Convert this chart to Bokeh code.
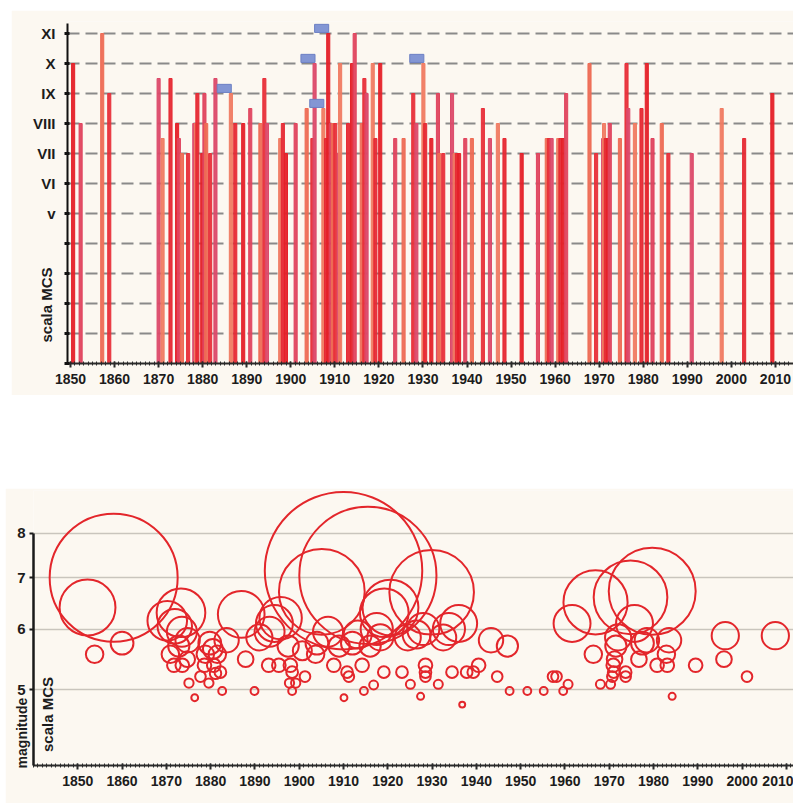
import math
from bokeh.plotting import figure
from bokeh.layouts import column, row
from bokeh.models import (FixedTicker, Label, Spacer, BasicTickFormatter)
from bokeh.embed import file_html
from bokeh.resources import INLINE

# ---------------- data: top panel (MCS intensity per event) ----------------
mcs_years = [1850.6, 1852.3, 1857.2, 1858.8, 1870.0, 1870.9, 1872.7, 1874.2, 1874.6,
             1875.3, 1876.7, 1878.1, 1878.5, 1878.8, 1879.9, 1880.4, 1880.8, 1881.7,
             1882.9, 1886.4, 1887.4, 1889.2, 1890.8, 1893.1, 1894.0, 1894.6, 1897.6,
             1898.2, 1898.9, 1901.1, 1903.6, 1904.9, 1905.4, 1907.4, 1908.0, 1908.5,
             1909.1, 1909.6, 1910.1, 1910.9, 1911.2, 1913.0, 1913.9, 1914.5, 1916.1,
             1916.7, 1917.2, 1918.6, 1919.2, 1920.3, 1923.7, 1925.6, 1927.8, 1928.5,
             1930.1, 1930.5, 1931.9, 1933.4, 1933.7, 1934.6, 1936.6, 1937.2, 1937.7,
             1938.2, 1939.6, 1941.1, 1943.6, 1945.2, 1947.0, 1948.5, 1952.4, 1956.1,
             1958.1, 1958.6, 1959.2, 1960.7, 1961.2, 1961.8, 1962.5, 1967.8, 1969.3,
             1970.9, 1971.1, 1971.5, 1972.0, 1972.4, 1974.7, 1976.2, 1976.6, 1978.1,
             1979.6, 1980.8, 1982.1, 1984.2, 1985.7, 1991.0, 1997.8, 2002.9, 2009.3]
mcs_levels = [10, 8, 11, 9, 9.5, 7.5, 9.5, 8, 7.5,
              7, 7, 8, 8, 9, 7, 9, 8, 7,
              9.5, 9, 8, 8, 8.5, 8, 9.5, 8, 7.5,
              8, 7, 8, 8.5, 7.5, 10, 8.5, 7.5, 11,
              8, 8, 8, 7, 10, 8, 10, 11, 8,
              9.5, 9, 10, 7.5, 10, 7.5, 7.5, 9, 8,
              10, 8, 7.5, 9, 7, 7, 9, 7, 7,
              7, 7.5, 7.5, 8.5, 7.5, 8, 7.5, 7, 7,
              7.5, 7.5, 7.5, 7.5, 7.5, 7.5, 9, 10, 7,
              7.5, 8, 7.5, 7.5, 8, 7.5, 10, 8.5, 8,
              8.5, 10, 7.5, 8, 7, 7, 8.5, 7.5, 9]
# events flagged with a blue marker
flag_years = [1886.4, 1905.4, 1907.4, 1908.5, 1930.1]
flag_levels = [9, 10, 8.5, 11, 10]

mcs_ticks = list(range(0, 12))
mcs_labels = ["", "", "", "", "", "v", "VI", "VII", "VIII", "IX", "X", "XI"]

# ---------------- data: bottom panel (magnitude per event) ----------------
eq_years = [1858.1, 1852.2, 1853.8, 1860.0,
            1870.2, 1873.3, 1871.9, 1873.5, 1874.8, 1870.9, 1871.7, 1873.6, 1874.7,
            1875.1, 1876.4, 1872.8,
            1877.7, 1878.6, 1878.8, 1879.6, 1880.7, 1881.1, 1881.5, 1882.2, 1882.6,
            1879.8, 1883.6, 1880.5,
            1886.9, 1887.9, 1889.9,
            1891.0, 1893.3, 1894.4, 1895.8, 1893.1, 1895.4, 1898.0, 1898.4, 1897.8,
            1899.2, 1898.4, 1897.5,
            1901.3, 1900.7, 1903.7, 1905.1, 1910.0, 1915.5, 1906.5, 1904.0, 1907.8,
            1909.0, 1910.8, 1911.2, 1910.1, 1912.0, 1913.2, 1914.2, 1914.6, 1916.8,
            1919.1, 1920.6, 1919.2, 1917.5, 1918.3, 1916.0,
            1923.2, 1925.1, 1927.4, 1928.5, 1928.5, 1928.5, 1931.4, 1924.5, 1926.5,
            1929.9, 1928.0,
            1934.5, 1936.8, 1937.8, 1939.3, 1940.5, 1936.0, 1933.8, 1932.5, 1943.3,
            1947.0,
            1944.7, 1947.5, 1951.5, 1955.2, 1957.3, 1958.1, 1959.6, 1960.7,
            1961.6, 1966.9, 1966.4, 1968.0, 1970.3, 1970.7, 1971.0, 1970.9, 1971.2,
            1973.7, 1973.7, 1974.8, 1975.7, 1979.7, 1976.7, 1980.8, 1983.1, 1982.9,
            1984.2, 1977.5, 1978.5, 1983.5, 1971.5, 1972.0,
            1989.5, 1995.9, 1996.2, 2001.1, 2007.5]
eq_mags = [7.0, 6.4, 5.56, 5.75,
           6.15, 6.3, 6.05, 5.95, 5.8, 5.56, 5.38, 5.38, 5.48,
           5.1, 4.88, 5.7,
           5.2, 5.38, 5.56, 5.1, 5.38, 5.25, 5.56, 5.27, 4.98,
           5.75, 5.8, 5.65,
           6.27, 5.48, 4.98,
           5.85, 5.95, 6.1, 6.2, 5.38, 5.38, 5.38, 5.27, 5.1,
           5.1, 4.98, 5.7,
           5.2, 5.62, 5.56, 6.71, 7.15, 7.05, 5.95, 5.75, 5.38,
           5.7, 5.27, 5.2, 4.88, 5.75, 5.9, 5.38, 4.98, 5.07,
           5.27, 6.4, 6.3, 6.0, 5.85, 5.7,
           5.27, 5.08, 4.9, 5.38, 5.27, 5.2, 5.08, 5.85, 5.9,
           6.7, 6.0,
           5.27, 4.78, 5.27, 5.27, 5.38, 6.1, 6.0, 5.85, 5.8,
           5.7,
           5.2, 4.98, 4.98, 4.98, 5.2, 5.2, 4.98, 5.08,
           6.1, 6.5, 5.56, 5.08, 5.08, 5.2, 5.27, 5.38, 5.48,
           5.27, 5.2, 6.6, 6.1, 6.72, 5.48, 5.38, 5.38, 5.56,
           4.9, 5.75, 5.8, 5.8, 5.7, 5.85,
           5.38, 5.48, 5.88, 5.2, 5.88]
mag_ticks = [5, 6, 7, 8]

decade_ticks = list(range(1850, 2011, 10))
year_ticks = list(range(1840, 2015))

# ---------------- styling ----------------
BG = "#fcf8f1"
FONT = "Liberation Sans"
TXT = "#1c1c1c"
BAR_COLORS = ["#e52129", "#e0445e", "#ee6c55", "#e8303a", "#dc4a6a", "#f07b62", "#e62a34"]
NB = "\u00a0"


def style_x_axis(p):
    ax = p.xaxis
    ax.ticker = FixedTicker(ticks=decade_ticks, minor_ticks=year_ticks)
    ax.axis_line_color = "#2a2a2a"
    ax.axis_line_width = 2
    ax.major_tick_line_color = "#2a2a2a"
    ax.major_tick_line_width = 2
    ax.major_tick_in = 2
    ax.major_tick_out = 4
    ax.minor_tick_line_color = "#2a2a2a"
    ax.minor_tick_line_width = 1
    ax.minor_tick_in = 2
    ax.minor_tick_out = 2
    ax.major_label_text_font = FONT
    ax.major_label_text_font_style = "bold"
    ax.major_label_text_font_size = "14px"
    ax.major_label_text_color = TXT
    ax.major_label_standoff = 6


# ---------------- top panel ----------------
p1 = figure(width=782, height=385, x_range=(1849.32, 2014.1), y_range=(0, 11.4),
            output_backend="svg", toolbar_location=None,
            min_border_left=56, min_border_right=0, min_border_top=11, min_border_bottom=32)
p1.background_fill_color = BG
p1.border_fill_color = BG
p1.outline_line_color = None
p1.xgrid.visible = False
p1.ygrid.ticker = FixedTicker(ticks=mcs_ticks[1:])
p1.ygrid.grid_line_color = "#8a8a8a"
p1.ygrid.grid_line_width = 2
p1.ygrid.grid_line_dash = "12 6"

bar_cols = [BAR_COLORS[i % len(BAR_COLORS)] for i in range(len(mcs_years))]
p1.vbar(x=mcs_years, top=mcs_levels, bottom=0, width=0.7,
        fill_color=bar_cols, line_color=bar_cols, line_width=1, fill_alpha=0.95)

p1.rect(x=[y - 1.5 for y in flag_years], y=[l + 0.17 for l in flag_levels],
        width=3.2, height=0.27, fill_color="#8396d4", line_color="#6d80c4", line_width=1)

style_x_axis(p1)
ya = p1.yaxis
ya.ticker = FixedTicker(ticks=mcs_ticks)
ya.major_label_overrides = {t: lab for t, lab in zip(mcs_ticks, mcs_labels)}
ya.bounds = (0, 11.35)
ya.axis_line_color = "#111111"
ya.axis_line_width = 2
ya.major_tick_line_color = "#111111"
ya.major_tick_line_width = 3
ya.major_tick_in = 2
ya.major_tick_out = 3
ya.minor_tick_line_color = None
ya.major_label_text_font = FONT
ya.major_label_text_font_style = "bold"
ya.major_label_text_font_size = "15px"
ya.major_label_text_color = TXT
ya.major_label_standoff = 9
ya.axis_label = "scala MCS" + NB * 54
ya.axis_label_text_font = FONT
ya.axis_label_text_font_style = "bold"
ya.axis_label_text_font_size = "15px"
ya.axis_label_text_color = TXT
ya.axis_label_standoff = -25

# ---------------- bottom panel ----------------
p2 = figure(width=788, height=315, x_range=(1840.0, 2011.6), y_range=(3.98, 9.1),
            y_axis_type="log", output_backend="svg", toolbar_location=None,
            min_border_left=28, min_border_right=0, min_border_top=2, min_border_bottom=38)
p2.background_fill_color = BG
p2.border_fill_color = BG
p2.outline_line_color = None
p2.xgrid.visible = False
p2.ygrid.ticker = FixedTicker(ticks=mag_ticks)
p2.ygrid.grid_line_color = "#c9c5bd"
p2.ygrid.grid_line_width = 1.5

sizes = [2 * 64 * 10 ** (0.6 * (m - 7)) for m in eq_mags]
p2.scatter(x=eq_years, y=eq_mags, size=sizes, marker="circle", fill_color=None,
           line_color="#e3262b", line_width=2)

style_x_axis(p2)
yb = p2.yaxis
yb.ticker = FixedTicker(ticks=mag_ticks)
yb.formatter = BasicTickFormatter()
yb.bounds = (3.98, 8)
yb.axis_line_color = "#1a1a1a"
yb.axis_line_width = 2.5
yb.major_tick_line_color = "#1a1a1a"
yb.major_tick_line_width = 2
yb.major_tick_in = 0
yb.major_tick_out = 4
yb.minor_tick_line_color = None
yb.major_label_text_font = FONT
yb.major_label_text_font_style = "bold"
yb.major_label_text_font_size = "15px"
yb.major_label_text_color = TXT
yb.major_label_standoff = 4
yb.axis_label = "magnitude" + NB * 54
yb.axis_label_text_font = FONT
yb.axis_label_text_font_style = "bold"
yb.axis_label_text_font_size = "14px"
yb.axis_label_text_color = TXT
yb.axis_label_standoff = -16

p2.add_layout(Label(x=14, y=51, x_units="screen", y_units="screen", text="scala MCS",
                    angle=math.pi / 2, text_align="center", text_baseline="middle",
                    text_font=FONT, text_font_style="bold", text_font_size="15px",
                    text_color=TXT))

layout = column(Spacer(width=793, height=10),
                row(Spacer(width=11, height=385), p1),
                Spacer(width=793, height=93),
                row(Spacer(width=5, height=315), p2))
open("out.html", "w").write(file_html(layout, INLINE))
